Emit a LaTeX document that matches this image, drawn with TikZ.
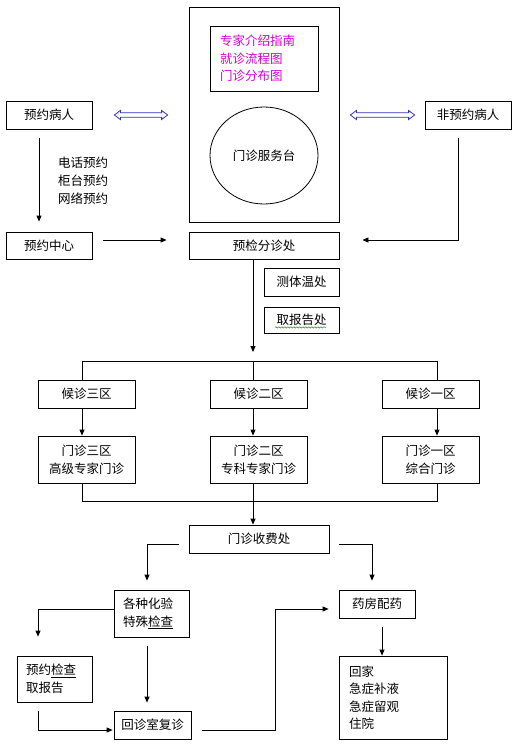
\documentclass[tikz,border=0pt]{standalone}
\usepackage{fontspec}
\newfontfamily\zh{Noto Sans CJK SC}
\usetikzlibrary{arrows.meta,shapes.geometric,decorations.pathmorphing,calc}
\definecolor{guidepink}{RGB}{210,0,210}
\definecolor{swapblue}{RGB}{50,50,190}

\tikzstyle{box} = [draw, line width=0.8pt, inner sep=0pt, font=\zh\fontsize{12.5}{17.5}\selectfont]
\tikzstyle{flow} = [line width=0.8pt, -{Triangle[length=6pt,width=5pt]}]
\tikzstyle{link} = [line width=0.8pt]
\tikzstyle{swapbox} = [draw=swapblue, line width=0.8pt, fill=white, line join=miter]

\begin{document}
\begin{tikzpicture}[x=1pt, y=-1pt]
\useasboundingbox (0,0) rectangle (519,752);
%begin service hall
\node[box, minimum width=150pt, minimum height=215pt] (hall) at (264,114.5) {};
\node[box, minimum width=108pt, minimum height=65pt, text width=88pt, align=left, text=guidepink] (guide) at (264,58.5) {专家介绍指南\\就诊流程图\\门诊分布图};
\node[box, ellipse, minimum width=108pt, minimum height=97pt] (desk) at (264,155.5) {门诊服务台};
%end service hall
%begin patients
\node[box, minimum width=86pt, minimum height=28pt] (book) at (49,115) {预约病人};
\node[box, minimum width=86pt, minimum height=28pt] (walkin) at (468,115) {非预约病人};
\node[font=\zh\fontsize{12.5}{18}\selectfont, align=left, inner sep=0pt, anchor=west] (channels) at (58,181) {电话预约\\柜台预约\\网络预约};
\node[box, minimum width=86pt, minimum height=27pt] (center) at (49,245.5) {预约中心};
\node[box, minimum width=150pt, minimum height=27pt] (triage) at (264,245.5) {预检分诊处};
\node[box, minimum width=75pt, minimum height=28pt] (temp) at (301.5,282) {测体温处};
\node[box, minimum width=75pt, minimum height=26pt] (report) at (301.5,320) {取报告处};
%end patients
%begin waiting and clinics
\node[box, minimum width=97pt, minimum height=28pt] (wait3) at (86.5,394) {候诊三区};
\node[box, minimum width=97pt, minimum height=28pt] (wait2) at (258.5,394) {候诊二区};
\node[box, minimum width=97pt, minimum height=28pt] (wait1) at (430.5,394) {候诊一区};
\node[box, minimum width=97pt, minimum height=47pt, align=center] (clinic3) at (86.5,459.5) {门诊三区\\高级专家门诊};
\node[box, minimum width=97pt, minimum height=47pt, align=center] (clinic2) at (258.5,459.5) {门诊二区\\专科专家门诊};
\node[box, minimum width=97pt, minimum height=47pt, align=center] (clinic1) at (430.5,459.5) {门诊一区\\综合门诊};
%end waiting and clinics
%begin after clinic
\node[box, minimum width=140pt, minimum height=28pt] (fee) at (259,539) {门诊收费处};
\node[box, minimum width=75pt, minimum height=47pt, text width=57pt, align=left] (lab) at (151.5,613.5) {各种化验\\特殊\underline{检查}};
\node[box, minimum width=76pt, minimum height=28pt] (pharm) at (377,604) {药房配药};
\node[box, minimum width=75pt, minimum height=46pt, text width=57pt, align=left] (appt) at (54.5,679) {预约\underline{检查}\\取报告};
\node[box, minimum width=77pt, minimum height=28pt] (revisit) at (152.5,725) {回诊室复诊};
\node[box, minimum width=108pt, minimum height=83pt, text width=88pt, align=left] (outcome) at (393,697.5) {回家\\急症补液\\急症留观\\住院};
%end after clinic
%begin coordinates
\coordinate (split) at (253,361);
\coordinate (busL) at (82,361);
\coordinate (busR) at (437,361);
\coordinate (join) at (253,501);
\coordinate (joinL) at (82,501);
\coordinate (joinR) at (437,501);
\coordinate (turn) at (275,730);
\coordinate (swapLa) at ([xshift=22pt]book.east);
\coordinate (swapLb) at ([xshift=-21pt]book.east -| hall.west);
\coordinate (swapRa) at ([xshift=11pt]hall.east |- walkin.west);
\coordinate (swapRb) at ([xshift=-10pt]walkin.west);
%end coordinates
%begin connectors
\draw[swapbox] (swapLa) -- ++(6,-4.5) -- ++(0,2.3) -- ($(swapLb)+(-6,-2.2)$) -- ++(0,-2.3) -- (swapLb) -- ++(-6,4.5) -- ++(0,-2.3) -- ($(swapLa)+(6,2.2)$) -- ++(0,2.3) -- cycle;
\draw[swapbox] (swapRa) -- ++(6,-4.5) -- ++(0,2.3) -- ($(swapRb)+(-6,-2.2)$) -- ++(0,-2.3) -- (swapRb) -- ++(-6,4.5) -- ++(0,-2.3) -- ($(swapRa)+(6,2.2)$) -- ++(0,2.3) -- cycle;
\draw[flow, shorten <=9pt, shorten >=10pt] ([xshift=-10pt]book.south) -- ([xshift=-10pt]center.north);
\draw[flow, shorten <=11pt, shorten >=22pt] ([yshift=5.5pt]center.east) -- ([yshift=5.5pt]triage.west);
\draw[flow, shorten >=23pt] ([xshift=-10pt,yshift=-9pt]walkin.south) |- ([yshift=5.5pt]triage.east);
\draw[flow, shorten >=9pt] ([xshift=-11pt]triage.south) -- (split);
\draw[link] (busL |- wait3.north) -- (busL) -- (busR) -- (busR |- wait1.north);
\draw[link] (split) -- (split |- wait2.north);
\draw[flow] (busL |- wait3.south) -- (busL |- clinic3.north);
\draw[flow] (split |- wait2.south) -- (split |- clinic2.north);
\draw[flow] (busR |- wait1.south) -- (busR |- clinic1.north);
\draw[link] (joinL |- clinic3.south) -- (joinL) -- (joinR) -- (joinR |- clinic1.south);
\draw[link] (join |- clinic2.south) -- (join);
\draw[flow] (join) -- (join |- fee.north);
\draw[flow, shorten <=10pt, shorten >=9pt] ([yshift=-5pt]fee.west) -| ([xshift=-4.5pt]lab.north);
\draw[flow, shorten <=10pt, shorten >=9pt] ([yshift=-5pt]fee.east) -| ([xshift=-5pt]pharm.north);
\draw[flow, shorten >=19pt] ([yshift=4.5pt]lab.west) -| ([xshift=-16.5pt]appt.north);
\draw[flow, shorten <=9pt, shorten >=1pt] ([xshift=-16.5pt]appt.south) |- ([yshift=-5pt]revisit.west);
\draw[flow, shorten <=9pt, shorten >=8pt] ([xshift=-4.5pt]lab.south) -- ([xshift=-5.5pt]revisit.north);
\draw[flow, shorten <=11pt, shorten >=10pt] ([yshift=-5pt]revisit.east) -- (turn) |- ([yshift=-5pt]pharm.west);
\draw[flow, shorten <=9pt] ([xshift=5pt]pharm.south) -- ([xshift=5pt]pharm.south |- outcome.north);
%end connectors
%spelling mark
\draw[green!60!black, line width=0.5pt, decorate, decoration={snake, amplitude=0.7pt, segment length=3pt}] ([xshift=-26.5pt,yshift=6pt]report.south) -- ([xshift=24.5pt,yshift=6pt]report.south);
\end{tikzpicture}
\end{document}
